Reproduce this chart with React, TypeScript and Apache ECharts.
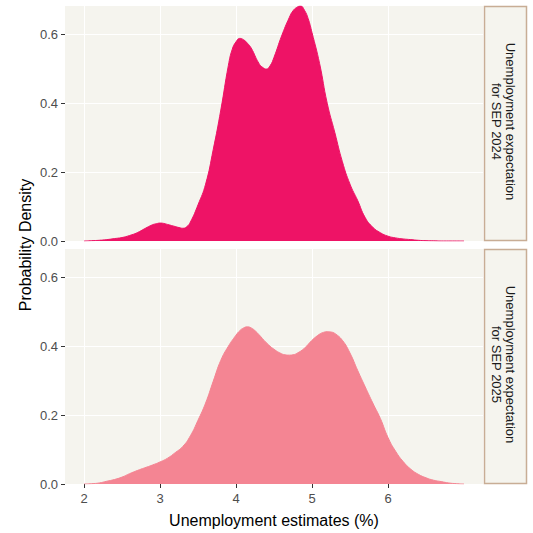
import React, { useEffect, useRef } from "react";
import * as echarts from "echarts";

// Kernel density estimates (x = unemployment %, y = density)
const x2024 = [2.0, 2.1, 2.2, 2.3, 2.4, 2.5, 2.6, 2.7, 2.8, 2.9, 2.95, 3.0, 3.05, 3.1, 3.2, 3.25, 3.3, 3.35, 3.4, 3.5, 3.6, 3.7, 3.8, 3.9, 3.95, 4.0, 4.05, 4.1, 4.15, 4.2, 4.3, 4.35, 4.4, 4.45, 4.5, 4.6, 4.7, 4.75, 4.8, 4.85, 4.9, 4.95, 5.0, 5.1, 5.2, 5.3, 5.4, 5.5, 5.6, 5.7, 5.8, 5.9, 6.0, 6.1, 6.2, 6.3, 6.4, 6.5, 6.6, 6.7, 6.8, 6.9, 7.0];
const y2024 = [0.0, 0.001, 0.002, 0.004, 0.007, 0.01, 0.016, 0.024, 0.036, 0.047, 0.05, 0.052, 0.051, 0.048, 0.042, 0.039, 0.037, 0.041, 0.055, 0.105, 0.165, 0.265, 0.38, 0.51, 0.556, 0.578, 0.588, 0.584, 0.574, 0.56, 0.516, 0.504, 0.499, 0.509, 0.533, 0.595, 0.648, 0.668, 0.678, 0.682, 0.67, 0.645, 0.605, 0.515, 0.4, 0.315, 0.23, 0.165, 0.118, 0.068, 0.04, 0.024, 0.014, 0.009, 0.006, 0.004, 0.002, 0.001, 0.0005, 0.0, 0.0, 0.0, 0.0];

const x2025 = [2.0, 2.1, 2.2, 2.3, 2.4, 2.5, 2.6, 2.7, 2.8, 2.9, 3.0, 3.1, 3.2, 3.3, 3.4, 3.5, 3.6, 3.7, 3.8, 3.9, 4.0, 4.05, 4.1, 4.15, 4.2, 4.25, 4.3, 4.4, 4.5, 4.6, 4.65, 4.7, 4.75, 4.8, 4.9, 5.0, 5.1, 5.15, 5.2, 5.25, 5.3, 5.4, 5.5, 5.6, 5.7, 5.8, 5.9, 6.0, 6.1, 6.2, 6.3, 6.4, 6.5, 6.6, 6.7, 6.8, 6.9, 7.0];
const y2025 = [0.0, 0.001, 0.003, 0.008, 0.013, 0.02, 0.03, 0.039, 0.047, 0.055, 0.064, 0.075, 0.091, 0.109, 0.14, 0.185, 0.235, 0.298, 0.359, 0.4, 0.432, 0.445, 0.453, 0.456, 0.453, 0.445, 0.434, 0.41, 0.391, 0.378, 0.375, 0.374, 0.375, 0.379, 0.394, 0.417, 0.435, 0.44, 0.442, 0.441, 0.437, 0.417, 0.38, 0.33, 0.282, 0.235, 0.19, 0.135, 0.095, 0.065, 0.043, 0.028, 0.018, 0.011, 0.007, 0.003, 0.001, 0.0];

const xTicks = [2, 3, 4, 5, 6];
const yTicks = [0, 0.2, 0.4, 0.6];
const stripLabels = ["Unemployment expectation\nfor SEP 2024", "Unemployment expectation\nfor SEP 2025"];
const colors = ["#EE1366", "#F48593"];
const xTitle = "Unemployment estimates (%)";
const yTitle = "Probability Density";

export default function App() {
  const ref = useRef<HTMLDivElement>(null);
  useEffect(() => {
    if (!ref.current) return;
    const chart = echarts.init(ref.current, null, { renderer: "svg" });
    const font = "'Liberation Sans', Arial, sans-serif";
    const panelBg = "#F5F4EE";
    const grids = [
      { left: 65, top: 6, width: 418, height: 235 },
      { left: 65, top: 249, width: 418, height: 235 },
    ];
    const xAxis = grids.map((_, i) => ({
      type: "value",
      gridIndex: i,
      min: 1.75,
      max: 7.25,
      axisLine: { show: false },
      axisTick: { show: i === 1, length: 4, lineStyle: { color: "#333333" }, customValues: xTicks },
      axisLabel: {
        show: i === 1,
        customValues: xTicks,
        color: "#4D4D4D",
        fontSize: 13,
        fontFamily: font,
        margin: 8,
      },
      splitLine: { show: true, lineStyle: { color: "#FFFFFF", width: 1 } },
    }));
    const yAxis = grids.map((_, i) => ({
      type: "value",
      gridIndex: i,
      min: 0,
      max: 0.682,
      axisLine: { show: false },
      axisTick: { show: true, length: 4, lineStyle: { color: "#333333" }, customValues: yTicks },
      axisLabel: {
        customValues: yTicks,
        color: "#4D4D4D",
        fontSize: 13,
        fontFamily: font,
        margin: 7,
        formatter: (v: number) => v.toFixed(1),
      },
      splitLine: { show: true, lineStyle: { color: "#FFFFFF", width: 1 } },
    }));
    const xs = [x2024, x2025];
    const ys = [y2024, y2025];
    const series = ys.map((yv, i) => ({
      type: "line",
      xAxisIndex: i,
      yAxisIndex: i,
      data: xs[i].map((x, j) => [x, yv[j]]),
      smooth: 0.5,
      showSymbol: false,
      lineStyle: { color: colors[i], width: 1 },
      areaStyle: { color: colors[i], opacity: 1 },
      z: 3,
    }));
    const graphic: any[] = [];
    grids.forEach((g, i) => {
      graphic.push({
        type: "rect",
        shape: { x: 484.5, y: g.top + 0.5, width: 42, height: g.height - 1 },
        style: { fill: panelBg, stroke: "#C8AD95", lineWidth: 1.5 },
      });
      graphic.push({
        type: "text",
        x: 503,
        y: g.top + g.height / 2 - 2,
        rotation: -Math.PI / 2,
        style: {
          text: stripLabels[i],
          fill: "#1A1A1A",
          font: `13px ${font}`,
          textAlign: "center",
          textVerticalAlign: "middle",
          lineHeight: 14,
        },
      });
    });
    graphic.push({
      type: "text",
      x: 25,
      y: 245,
      rotation: Math.PI / 2,
      style: {
        text: yTitle,
        fill: "#000000",
        font: `16px ${font}`,
        textAlign: "center",
        textVerticalAlign: "middle",
      },
    });
    graphic.push({
      type: "text",
      x: 274,
      y: 520,
      style: {
        text: xTitle,
        fill: "#000000",
        font: `16px ${font}`,
        textAlign: "center",
        textVerticalAlign: "middle",
      },
    });
    chart.setOption({
      animation: false,
      backgroundColor: "#FFFFFF",
      grid: grids.map((g) => ({ ...g, show: true, backgroundColor: panelBg, borderWidth: 0 })),
      xAxis,
      yAxis,
      series,
      graphic,
    } as any);
    return () => chart.dispose();
  }, []);
  return (
    <div
      ref={ref}
      style={{ position: "fixed", left: 0, top: 0, width: 533, height: 533 }}
    />
  );
}
